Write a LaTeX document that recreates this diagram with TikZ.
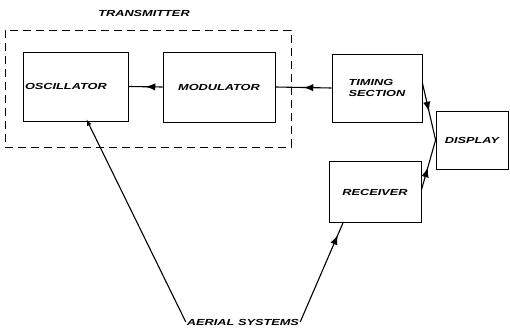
\documentclass[tikz,border=0pt]{standalone}
\usepackage{fontspec}
\newfontfamily\blockfont[FakeStretch=1.45]{Liberation Sans}
\usetikzlibrary{positioning, arrows, decorations.markings}

\tikzset{
  block/.style={draw, line width=0.8pt, inner sep=1pt, align=left},
  lbl/.style={font=\blockfont\bfseries\itshape\fontsize{8.8}{10.5}\selectfont},
  link/.style={line width=1.1pt},
  midarrow/.style={postaction={decorate}, decoration={markings,
      mark=at position #1 with {\arrow[scale=1.6]{latex}}}},
  midarrow/.default=0.5
}

\begin{document}
\begin{tikzpicture}[x=1pt, y=-1pt, lbl]
			\useasboundingbox (0,0) rectangle (510,329);

			\node[draw, dash pattern=on 8pt off 5pt, line width=0.7pt, minimum width=286pt, minimum height=117pt] (trans) at (148,88.5) {};
			\node (translbl) at (144,13) {TRANSMITTER};

			\node[block, minimum width=105pt, minimum height=69pt, text width=101pt] (osc) at (75.5,86.5) {OSCILLATOR};
			\node[block, minimum width=112pt, minimum height=70pt] (mod) at (219,87) {MODULATOR};
			\node[block, minimum width=90pt, minimum height=68pt] (tim) at (377,88) {TIMING\\SECTION};
			\node[block, minimum width=72pt, minimum height=58pt] (disp) at (472,140) {DISPLAY};
			\node[block, minimum width=92pt, minimum height=61pt] (rcv) at (375,192) {RECEIVER};
			\node[inner sep=1pt] (aerial) at (243,322) {AERIAL SYSTEMS};

			\draw[link, midarrow] (mod.west) -- (osc.east);
			\draw[link, midarrow] (tim.west) -- (mod.east);
			\draw[link, midarrow] ([yshift=5pt]tim.east) -- (disp.west);
			\draw[link, midarrow=0.45] ([yshift=2pt]rcv.east) -- (disp.west);
			\draw[link, -latex, shorten >=-2pt] (aerial.west) -- ([xshift=12pt]osc.south);
			\draw[link, midarrow=0.88] (aerial.east) -- ([xshift=-32pt]rcv.south);
		\end{tikzpicture}
\end{document}
